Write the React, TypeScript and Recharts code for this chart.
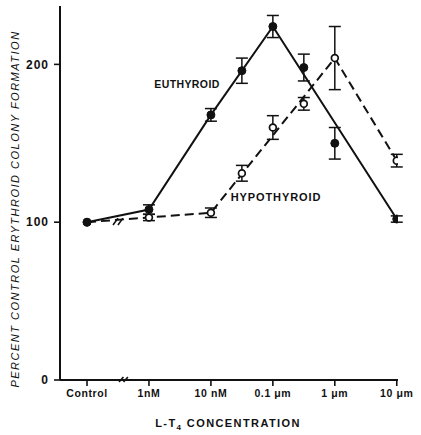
import {
  ComposedChart,
  Line,
  Scatter,
  ErrorBar,
  XAxis,
  YAxis,
  ReferenceLine,
} from "recharts";

// x positions: 0 = control, then one step per decade of L-T4 (1nM ... 10 μm)
const concLabels = ["Control", "1nM", "10 nM", "0.1 μm", "1 μm", "10 μm"];
const concTicks = [0, 1, 2, 3, 4, 5];
const yTicks = [0, 100, 200];

const pointX = [0, 1, 2, 2.5, 3, 3.5, 4, 5];
const euthyroid = [100, 108, 168, 196, 224, 198, 150, 102];
const euthyroidErr = [0, 3, 4, 8, 7, 8.5, 10, 2];
const hypothyroid = [100, 103, 106, 131, 160, 175, 204, 139];
const hypothyroidErr = [0, 2, 3, 5, 7.5, 4, 20, 4];

// drawn curves (hand fit through selected points)
const euLineX = [0, 1, 2, 3, 5];
const euLineY = [100, 108, 168, 224, 102];
const hypoLineX = [0, 1, 2, 4, 5];
const hypoLineY = [100, 103, 106, 204, 139];

const ink = "#111";
const font = "'Liberation Sans', Arial, sans-serif";

const euPts = pointX.map((x, i) => ({ x, y: euthyroid[i], err: euthyroidErr[i] }));
const hypoPts = pointX.map((x, i) => ({ x, y: hypothyroid[i], err: hypothyroidErr[i] }));
const euLine = euLineX.map((x, i) => ({ x, y: euLineY[i] }));
const hypoLine = hypoLineX.map((x, i) => ({ x, y: hypoLineY[i] }));

const FilledDot = (p: any) => (
  <circle cx={p.cx} cy={p.cy} r={4} fill={ink} stroke={ink} strokeWidth={1} />
);
const OpenDot = (p: any) => (
  <circle cx={p.cx} cy={p.cy} r={3.4} fill="#fff" stroke={ink} strokeWidth={1.7} />
);

const slash = (x1: number, y1: number, x2: number, y2: number, key: string) => (
  <ReferenceLine
    key={key}
    segment={[
      { x: x1, y: y1 },
      { x: x2, y: y2 },
    ]}
    stroke={ink}
    strokeWidth={1.6}
    ifOverflow="visible"
  />
);

export default function App() {
  return (
    <div style={{ position: "absolute", left: 0, top: 0, background: "#fff" }}>
      <ComposedChart
        width={421}
        height={435}
        margin={{ top: 6, right: 23, bottom: 25, left: 0 }}
      >
        <XAxis
          dataKey="x"
          type="number"
          domain={[-0.436, 5.02]}
          ticks={concTicks}
          tickFormatter={(v: number) => concLabels[v] ?? ""}
          allowDataOverflow
          height={30}
          axisLine={{ stroke: ink, strokeWidth: 2 }}
          tickLine={{ stroke: ink, strokeWidth: 1.6 }}
          tickSize={6}
          tickMargin={4}
          tick={{ fill: ink, fontSize: 10.5, fontWeight: 700, fontFamily: font, letterSpacing: 0.6 }}
        />
        <YAxis
          type="number"
          domain={[0, 237]}
          ticks={yTicks}
          allowDataOverflow
          width={60}
          axisLine={{ stroke: ink, strokeWidth: 2 }}
          tickLine={{ stroke: ink, strokeWidth: 1.6 }}
          tickSize={6}
          tickMargin={5}
          tick={{ fill: ink, fontSize: 12, fontWeight: 700, fontFamily: font, letterSpacing: 1 }}
        />

        <Line
          data={euLine}
          dataKey="y"
          type="linear"
          stroke={ink}
          strokeWidth={2}
          dot={false}
          activeDot={false}
          isAnimationActive={false}
        />
        <Line
          data={hypoLine}
          dataKey="y"
          type="linear"
          stroke={ink}
          strokeWidth={2}
          strokeDasharray="9 5"
          dot={false}
          activeDot={false}
          isAnimationActive={false}
        />

        <Scatter data={hypoPts} dataKey="y" shape={OpenDot} isAnimationActive={false}>
          <ErrorBar dataKey="err" direction="y" width={6} stroke={ink} strokeWidth={1.5} />
        </Scatter>
        <Scatter data={euPts} dataKey="y" shape={FilledDot} isAnimationActive={false}>
          <ErrorBar dataKey="err" direction="y" width={6} stroke={ink} strokeWidth={1.5} />
        </Scatter>

        {/* axis break and curve break marks */}
        {slash(0.517, -1.3, 0.588, 1.9, "ax1")}
        {slash(0.59, -1.3, 0.66, 1.9, "ax2")}
        {slash(0.42, 98.2, 0.5, 102.6, "ln1")}
        {slash(0.5, 98.2, 0.58, 102.6, "ln2")}

        <text x={187} y={88} textAnchor="middle" fill={ink} fontFamily={font} fontSize={10.5} fontWeight={700} letterSpacing={0.4}>
          EUTHYROID
        </text>
        <text x={276} y={201} textAnchor="middle" fill={ink} fontFamily={font} fontSize={11} fontWeight={700} letterSpacing={0.9}>
          HYPOTHYROID
        </text>
        <text
          transform="rotate(-90)"
          x={-209}
          y={19}
          textAnchor="middle"
          fill={ink}
          fontFamily={font}
          fontSize={11}
          fontStyle="italic"
          letterSpacing={1.5}
        >
          PERCENT CONTROL ERYTHROID COLONY FORMATION
        </text>
        <text x={228} y={427} textAnchor="middle" fill={ink} fontFamily={font} fontSize={11} fontWeight={700} letterSpacing={1.4}>
          L-T
          <tspan dy={3} fontSize={8}>4</tspan>
          <tspan dy={-3}>{"   CONCENTRATION"}</tspan>
        </text>
      </ComposedChart>
    </div>
  );
}
